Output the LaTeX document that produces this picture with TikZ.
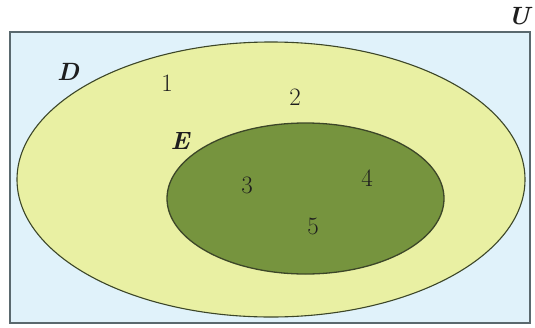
\documentclass[tikz,border=0pt]{standalone}
\usepackage{tikz}
\usepackage{xcolor}
\definecolor{universebg}{RGB}{224,242,250}
\definecolor{universeborder}{RGB}{90,105,110}
\definecolor{setdbg}{RGB}{233,240,163}
\definecolor{setebg}{RGB}{118,148,62}
\definecolor{setborder}{RGB}{60,70,40}
\definecolor{labeltext}{RGB}{30,30,30}

\begin{document}
\begin{tikzpicture}[x=1pt, y=-1pt]

\useasboundingbox (0,0) rectangle (535,327);

% Universe box
\filldraw[fill=universebg, draw=universeborder, line width=1.2pt] (10,32) rectangle (530,323);
\node[text=labeltext, font=\fontsize{25}{30}\selectfont\bfseries\itshape] (labelU) at (519,16) {U};

% Set D
\filldraw[fill=setdbg, draw=setborder, line width=1.1pt] (271,179.5) ellipse [x radius=254, y radius=137.5];
\node[text=labeltext, font=\fontsize{25}{30}\selectfont\bfseries\itshape] (labelD) at (68,72) {D};

% Set E
\filldraw[fill=setebg, draw=setborder, line width=1.3pt] (305.5,198.5) ellipse [x radius=138.5, y radius=75.5];
\node[text=labeltext, font=\fontsize{25}{30}\selectfont\bfseries\itshape] (labelE) at (180,141) {E};

% Elements
\node[text=labeltext, font=\fontsize{25}{30}\selectfont] (one) at (167,83) {1};
\node[text=labeltext, font=\fontsize{25}{30}\selectfont] (two) at (295,97) {2};
\node[text=labeltext, font=\fontsize{25}{30}\selectfont] (three) at (247,185) {3};
\node[text=labeltext, font=\fontsize{25}{30}\selectfont] (four) at (367,178) {4};
\node[text=labeltext, font=\fontsize{25}{30}\selectfont] (five) at (313,226) {5};

\end{tikzpicture}
\end{document}
